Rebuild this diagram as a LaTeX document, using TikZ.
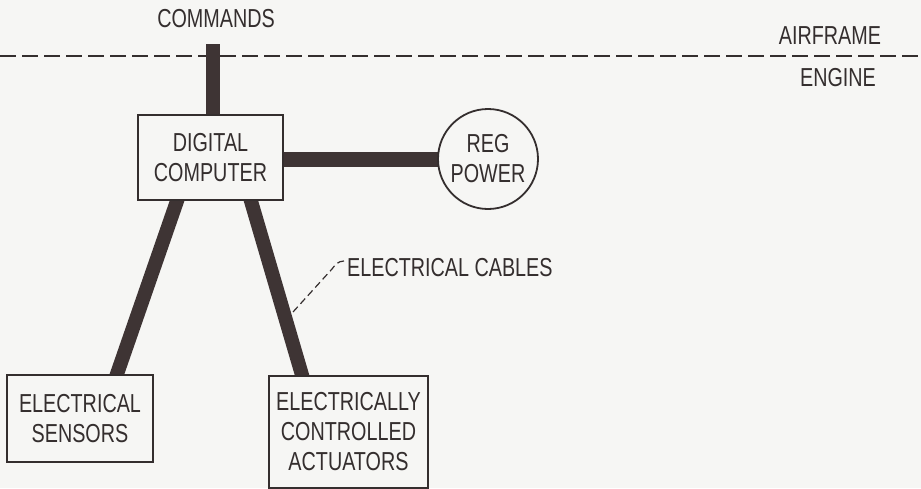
\documentclass[tikz,border=0pt]{standalone}
\usepackage{fontspec}
\setmainfont[FakeStretch=0.76]{Liberation Sans}
\usetikzlibrary{backgrounds,calc}
\definecolor{paper}{RGB}{246,246,244}
\definecolor{ink}{RGB}{52,46,46}
\definecolor{bar}{RGB}{62,52,52}
\tikzset{
  lbl/.style={font=\fontsize{26}{31}\selectfont, text=ink, inner sep=0pt},
  boxnode/.style={draw=ink, line width=2pt, fill=paper, align=center, inner sep=0pt,
    font=\fontsize{26}{30}\selectfont, text=ink},
  cable/.style={line width=14pt, draw=bar, line cap=butt},
}
\begin{document}
\begin{tikzpicture}[x=1pt,y=-1pt]
\useasboundingbox (0,0) rectangle (921,488);
% nodes
\node[boxnode, minimum width=145pt, minimum height=85pt] (dc) at (210.5,157.5) {DIGITAL\\COMPUTER};
\node[boxnode, circle, minimum size=100pt, line width=1.8pt] (reg) at (488,159) {REG\\POWER};
\node[boxnode, minimum width=146pt, minimum height=87pt] (sens) at (80,418.5) {ELECTRICAL\\SENSORS};
\node[boxnode, minimum width=159pt, minimum height=112pt, anchor=north] (act) at (348.5,375) {ELECTRICALLY\\CONTROLLED\\ACTUATORS};
\node[lbl] (cmd) at (216,19) {COMMANDS};
\node[lbl] (air) at (830,36) {AIRFRAME};
\node[lbl] (eng) at (838,78) {ENGINE};
\node[lbl, anchor=west] (cab) at (347,268) {ELECTRICAL CABLES};
\coordinate (cmdtop) at (213,44);
\coordinate (cabend) at (293,312);
\begin{scope}[on background layer]
  \fill[paper] (0,0) rectangle (921,488);
  \draw[ink, line width=2.2pt, dash pattern=on 16pt off 6pt] (0,56) -- (921,56);
  \draw[cable, shorten >=-8pt] (cmdtop) -- (cmdtop |- dc.north);
  \draw[cable, line width=15pt, shorten <=-8pt, shorten >=-8pt] (reg.west -| dc.east) -- (reg.west);
  \draw[cable, shorten <=-8pt, shorten >=-8pt] ([xshift=-33.5pt]dc.south) -- ([xshift=37pt]sens.north);
  \draw[cable, shorten <=-8pt, shorten >=-8pt] ([xshift=40.5pt]dc.south) -- ([xshift=-46.5pt]act.north);
\end{scope}
\draw[ink, line width=1.2pt, dash pattern=on 7pt off 4pt]
  ([xshift=-3pt,yshift=7pt]cab.west) .. controls +(-6,0) and +(3,-4) .. +(-12,8) -- (cabend);
\end{tikzpicture}
\end{document}
